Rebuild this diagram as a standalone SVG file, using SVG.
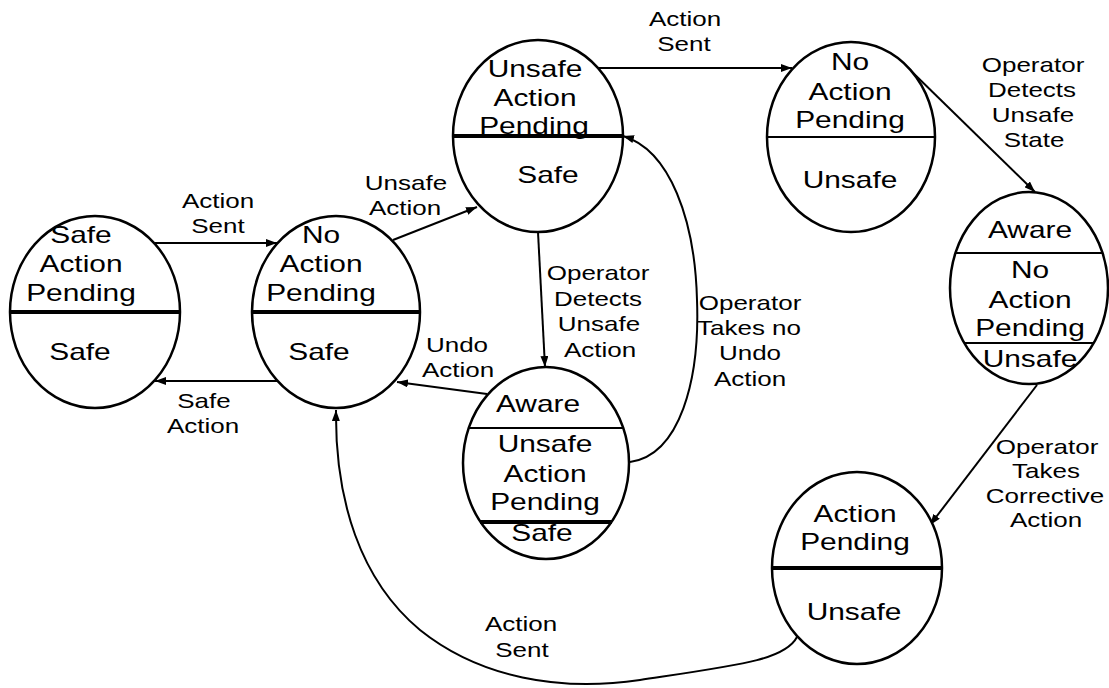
<svg xmlns="http://www.w3.org/2000/svg" width="1109" height="688" viewBox="0 0 1109 688">
<defs>
<style>
.st ellipse{fill:#fff;stroke:#000;stroke-width:2.5}
.thick{stroke:#000;stroke-width:4}
.thin{stroke:#000;stroke-width:2}
text{font-family:"Liberation Sans",Arial,sans-serif;fill:#000;text-anchor:middle}
.nt{font-size:23px}
.et{font-size:20px}
.conn path{fill:none;stroke:#000;stroke-width:2;marker-end:url(#arr)}
</style>
<marker id="arr" markerUnits="userSpaceOnUse" markerWidth="11" markerHeight="8" refX="11" refY="4" orient="auto">
<path d="M0,0 L11,4 L0,8 z" fill="#000"/>
</marker>
</defs>
<rect width="1109" height="688" fill="#fff"/>
<g id="connectors" class="conn">
<path d="M155,243 L277,243"/>
<path d="M277,381 L155,381"/>
<path d="M393,240 L477,207"/>
<path d="M597,68 L792,68"/>
<path d="M907,67 L1035,192"/>
<path d="M538,232 L545,367"/>
<path d="M487,394 L397,382"/>
<path d="M630,462 C680,455 700,380 697,300 C695,220 670,150 623,136"/>
<path d="M1037,385 L930,525"/>
<path d="M797,637 C785,660 740,665 640,680 C560,692 480,678 420,630 C360,580 335,500 336,410"/>
</g>
<g id="edge-labels">
<text class="et" transform="matrix(1.3 0 0 1 218 0)" y="208">Action</text>
<text class="et" transform="matrix(1.3 0 0 1 218 0)" y="233">Sent</text>
<text class="et" transform="matrix(1.3 0 0 1 204 0)" y="408">Safe</text>
<text class="et" transform="matrix(1.3 0 0 1 203 0)" y="433">Action</text>
<text class="et" transform="matrix(1.3 0 0 1 406 0)" y="190">Unsafe</text>
<text class="et" transform="matrix(1.3 0 0 1 405 0)" y="215">Action</text>
<text class="et" transform="matrix(1.3 0 0 1 685 0)" y="26">Action</text>
<text class="et" transform="matrix(1.3 0 0 1 684 0)" y="51">Sent</text>
<text class="et" transform="matrix(1.3 0 0 1 1033 0)" y="72">Operator</text>
<text class="et" transform="matrix(1.3 0 0 1 1032 0)" y="97">Detects</text>
<text class="et" transform="matrix(1.3 0 0 1 1033 0)" y="122">Unsafe</text>
<text class="et" transform="matrix(1.3 0 0 1 1034 0)" y="147">State</text>
<text class="et" transform="matrix(1.3 0 0 1 598 0)" y="280">Operator</text>
<text class="et" transform="matrix(1.3 0 0 1 598 0)" y="306">Detects</text>
<text class="et" transform="matrix(1.3 0 0 1 599 0)" y="331">Unsafe</text>
<text class="et" transform="matrix(1.3 0 0 1 600 0)" y="357">Action</text>
<text class="et" transform="matrix(1.3 0 0 1 457 0)" y="352">Undo</text>
<text class="et" transform="matrix(1.3 0 0 1 458 0)" y="377">Action</text>
<text class="et" transform="matrix(1.3 0 0 1 750 0)" y="310">Operator</text>
<text class="et" transform="matrix(1.3 0 0 1 749 0)" y="335">Takes no</text>
<text class="et" transform="matrix(1.3 0 0 1 750 0)" y="360">Undo</text>
<text class="et" transform="matrix(1.3 0 0 1 750 0)" y="386">Action</text>
<text class="et" transform="matrix(1.3 0 0 1 1047 0)" y="454">Operator</text>
<text class="et" transform="matrix(1.3 0 0 1 1046 0)" y="478">Takes</text>
<text class="et" transform="matrix(1.3 0 0 1 1045 0)" y="503">Corrective</text>
<text class="et" transform="matrix(1.3 0 0 1 1046 0)" y="527">Action</text>
<text class="et" transform="matrix(1.3 0 0 1 521 0)" y="631">Action</text>
<text class="et" transform="matrix(1.3 0 0 1 522 0)" y="657">Sent</text>
</g>
<g id="node-safe-action-pending" class="st">
<ellipse cx="95" cy="312" rx="85" ry="96"/>
<line class="thick" x1="10" y1="312" x2="180" y2="312"/>
<text class="nt" transform="matrix(1.3 0 0 1 81 0)" y="243">Safe</text>
<text class="nt" transform="matrix(1.3 0 0 1 81 0)" y="272">Action</text>
<text class="nt" transform="matrix(1.3 0 0 1 81 0)" y="301">Pending</text>
<text class="nt" transform="matrix(1.3 0 0 1 80 0)" y="360">Safe</text>
</g>
<g id="node-no-action-pending-safe" class="st">
<ellipse cx="336" cy="312" rx="84" ry="96"/>
<line class="thick" x1="252" y1="312" x2="420" y2="312"/>
<text class="nt" transform="matrix(1.3 0 0 1 321 0)" y="243">No</text>
<text class="nt" transform="matrix(1.3 0 0 1 321 0)" y="272">Action</text>
<text class="nt" transform="matrix(1.3 0 0 1 321 0)" y="301">Pending</text>
<text class="nt" transform="matrix(1.3 0 0 1 319 0)" y="360">Safe</text>
</g>
<g id="node-unsafe-action-pending-safe" class="st">
<ellipse cx="538" cy="136" rx="85" ry="96"/>
<line class="thick" x1="453" y1="136" x2="623" y2="136"/>
<text class="nt" transform="matrix(1.3 0 0 1 535 0)" y="77">Unsafe</text>
<text class="nt" transform="matrix(1.3 0 0 1 535 0)" y="106">Action</text>
<text class="nt" transform="matrix(1.3 0 0 1 534 0)" y="134">Pending</text>
<text class="nt" transform="matrix(1.3 0 0 1 548 0)" y="183">Safe</text>
</g>
<g id="node-no-action-pending-unsafe" class="st">
<ellipse cx="851" cy="137" rx="84" ry="95"/>
<line class="thin" x1="767" y1="137" x2="935" y2="137"/>
<text class="nt" transform="matrix(1.3 0 0 1 850 0)" y="70">No</text>
<text class="nt" transform="matrix(1.3 0 0 1 850 0)" y="100">Action</text>
<text class="nt" transform="matrix(1.3 0 0 1 850 0)" y="128">Pending</text>
<text class="nt" transform="matrix(1.3 0 0 1 850 0)" y="188">Unsafe</text>
</g>
<g id="node-aware-no-action-pending-unsafe" class="st">
<ellipse cx="1029" cy="288" rx="79" ry="96"/>
<line class="thin" x1="956" y1="253" x2="1102" y2="253"/>
<line class="thin" x1="965" y1="343" x2="1094" y2="343"/>
<text class="nt" transform="matrix(1.3 0 0 1 1030 0)" y="238">Aware</text>
<text class="nt" transform="matrix(1.3 0 0 1 1030 0)" y="278">No</text>
<text class="nt" transform="matrix(1.3 0 0 1 1030 0)" y="308">Action</text>
<text class="nt" transform="matrix(1.3 0 0 1 1030 0)" y="336">Pending</text>
<text class="nt" transform="matrix(1.3 0 0 1 1030 0)" y="367">Unsafe</text>
</g>
<g id="node-action-pending-unsafe" class="st">
<ellipse cx="857" cy="568" rx="85" ry="96"/>
<line class="thick" x1="772" y1="568" x2="942" y2="568"/>
<text class="nt" transform="matrix(1.3 0 0 1 855 0)" y="522">Action</text>
<text class="nt" transform="matrix(1.3 0 0 1 855 0)" y="550">Pending</text>
<text class="nt" transform="matrix(1.3 0 0 1 854 0)" y="620">Unsafe</text>
</g>
<g id="node-aware-unsafe-action-pending-safe" class="st">
<ellipse cx="546" cy="463" rx="83" ry="96"/>
<line class="thin" x1="469" y1="428" x2="623" y2="428"/>
<line class="thick" x1="480" y1="522" x2="612" y2="522"/>
<text class="nt" transform="matrix(1.3 0 0 1 538 0)" y="412">Aware</text>
<text class="nt" transform="matrix(1.3 0 0 1 545 0)" y="452">Unsafe</text>
<text class="nt" transform="matrix(1.3 0 0 1 545 0)" y="482">Action</text>
<text class="nt" transform="matrix(1.3 0 0 1 545 0)" y="510">Pending</text>
<text class="nt" transform="matrix(1.3 0 0 1 542 0)" y="541">Safe</text>
</g>
</svg>
